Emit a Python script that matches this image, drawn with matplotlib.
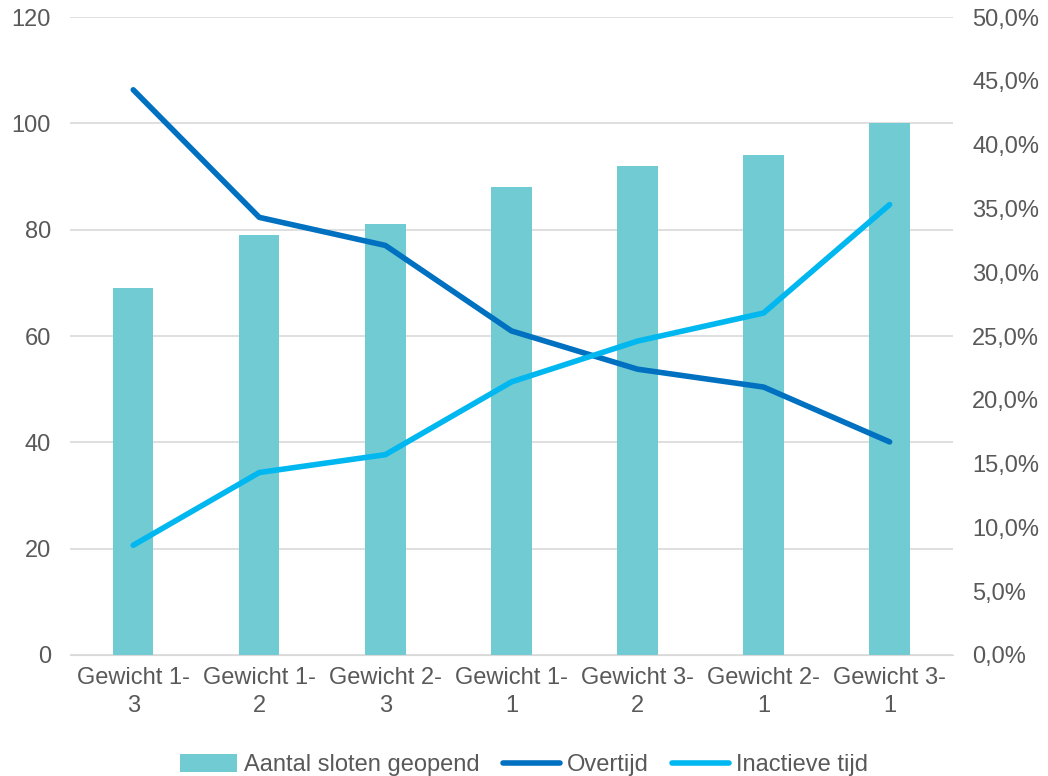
import matplotlib.pyplot as plt
import numpy as np
from matplotlib.ticker import FuncFormatter

plt.rcParams['font.family'] = ['Liberation Sans', 'DejaVu Sans']

categories = ["Gewicht 1-\n3", "Gewicht 1-\n2", "Gewicht 2-\n3", "Gewicht 1-\n1",
              "Gewicht 3-\n2", "Gewicht 2-\n1", "Gewicht 3-\n1"]
sloten = [69, 79, 81, 88, 92, 94, 100]
overtijd = [44.3, 34.3, 32.1, 25.4, 22.4, 21.0, 16.7]
inactief = [8.6, 14.3, 15.7, 21.4, 24.6, 26.8, 35.3]

grey = "#595959"
fs = 17

fig = plt.figure(figsize=(10.48, 7.76), dpi=100)
ax = fig.add_axes([0.067, 0.156, 0.842, 0.822])
x = np.arange(len(categories))

ax.bar(x, sloten, width=0.32, color="#70cbd3", label="Aantal sloten geopend", zorder=2)
ax.set_ylim(0, 120)
ax.set_yticks(range(0, 121, 20))
ax.set_xlim(-0.5, len(categories) - 0.5)
ax.set_xticks(x)
ax.set_xticklabels(categories, fontsize=fs, color=grey, linespacing=1.3)
ax.tick_params(axis='y', labelsize=fs, labelcolor=grey, length=0, pad=14)
ax.tick_params(axis='x', length=0, pad=9)
ax.grid(axis='y', color="#d9d9d9", linewidth=1.2, zorder=0)
for s in ax.spines.values():
    s.set_visible(False)
ax.spines['bottom'].set_visible(True)
ax.spines['bottom'].set_color("#d9d9d9")

ax2 = ax.twinx()
ax2.plot(x, overtijd, color="#0070c0", linewidth=4, solid_capstyle='round', label="Overtijd")
ax2.plot(x, inactief, color="#00b7f0", linewidth=4, solid_capstyle='round', label="Inactieve tijd")
ax2.set_ylim(0, 50)
ax2.set_yticks(np.arange(0, 51, 5))
ax2.yaxis.set_major_formatter(FuncFormatter(lambda v, p: f"{v:.1f}%".replace(".", ",")))
ax2.tick_params(axis='y', labelsize=fs, labelcolor=grey, length=0, pad=14)
for s in ax2.spines.values():
    s.set_visible(False)

h1, l1 = ax.get_legend_handles_labels()
h2, l2 = ax2.get_legend_handles_labels()
fig.legend(h1 + h2, l1 + l2, loc='lower center', bbox_to_anchor=(0.5, -0.028), ncol=3,
           frameon=False, fontsize=fs, labelcolor=grey, handlelength=2.4,
           handleheight=0.8, columnspacing=1.0, handletextpad=0.3)

fig.savefig("out.png", dpi=100)
